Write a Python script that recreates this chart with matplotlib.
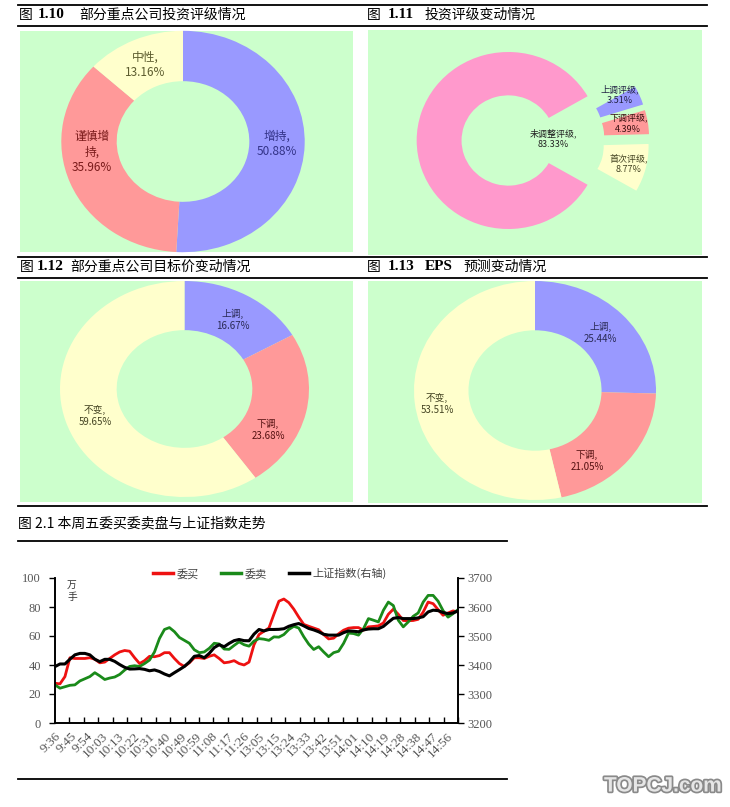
import numpy as np
import matplotlib
matplotlib.use("Agg")
import matplotlib.pyplot as plt
import matplotlib.patheffects as pe
from matplotlib.lines import Line2D

plt.rcParams['font.family'] = ['Noto Sans CJK SC', 'DejaVu Sans']

W, H = 730, 807
GREEN = '#ccffcc'
BLUE, RED, YELLOW, PINK = '#9999ff', '#ff9999', '#ffffcc', '#ff99cc'

# ---- data: donuts ----
p1_names = ['增持', '谨慎增\n持', '中性']
p1_values = [50.88, 35.96, 13.16]

p2_names = ['上调评级', '下调评级', '首次评级', '未调整评级']
p2_values = [3.51, 4.39, 8.77, 83.33]

p3_names = ['上调', '下调', '不变']
p3_values = [16.67, 23.68, 59.65]

p4_names = ['上调', '下调', '不变']
p4_values = [25.44, 21.05, 53.51]

# ---- data: intraday lines ----
time_labels = ['9:36', '9:45', '9:54', '10:03', '10:13', '10:22', '10:31', '10:40',
               '10:49', '10:59', '11:08', '11:17', '11:26', '13:05', '13:15', '13:24',
               '13:33', '13:42', '13:51', '14:01', '14:10', '14:19', '14:28', '14:38',
               '14:47', '14:56']

buy = [27.4, 27, 32, 45, 44.5, 44.5, 44.5, 45, 44, 41.5,
       42, 44.5, 47, 49, 50, 49.5, 45, 41, 43, 46,
       45.7, 46.5, 48.5, 48.5, 44.5, 41, 39, 41.5, 45, 45,
       44.5, 46, 47, 44.5, 41.5, 42, 43, 41, 40, 42,
       54, 61, 63.3, 65.5, 75, 84, 85.5, 83, 78.5, 73,
       68, 66.7, 65.5, 64.3, 61, 58, 58.5, 61.5, 64, 65.4,
       65.8, 65.8, 64, 66.3, 66.6, 67, 69, 75, 78.5, 75,
       70.7, 70.5, 70.7, 71.5, 76.5, 83.4, 82.3, 78.2, 74.3, 75.9,
       77.3, 76.6]

sell = [26.3, 24, 25, 26, 26.3, 29, 30.5, 32, 34.7, 32.5,
        30, 31, 31.7, 33.5, 36.5, 39, 39.5, 39, 41, 43.4,
        49, 58.3, 64.5, 65.8, 63, 59, 57, 55, 50.5, 48.5,
        49, 51.5, 55, 54.5, 51, 50.8, 53.5, 56, 54, 53,
        56.5, 58.2, 57.8, 57, 59.4, 59.2, 61, 64.5, 66.7, 65.5,
        59.5, 54.4, 50.7, 52.6, 49, 45.7, 48.5, 49.5, 54.9, 62,
        61.7, 60.6, 65, 72, 70.9, 69.7, 77.7, 83.4, 81, 70.9,
        66.3, 69.7, 73.6, 75.9, 83.4, 88, 88, 84, 77.5, 73,
        75.4, 78.2]

sh_index = [3394.5, 3403.5, 3403.5, 3420, 3435, 3440, 3440, 3435, 3420, 3411.5,
            3419.5, 3419.5, 3412.5, 3401.5, 3392, 3386, 3386.5, 3387.5, 3385, 3380,
            3383, 3377.5, 3369, 3362.5, 3373.5, 3384, 3395, 3410, 3430, 3432.5,
            3425, 3440, 3460, 3470, 3463, 3474.5, 3484, 3488, 3484, 3483.5,
            3506.5, 3522.5, 3517.5, 3522.5, 3522.5, 3523, 3525, 3533.5, 3539, 3543,
            3535, 3526, 3521, 3514.5, 3506, 3503, 3503, 3503, 3511.5, 3517.5,
            3516.5, 3514.5, 3521, 3524, 3525, 3525, 3533, 3547.5, 3561, 3563.5,
            3560, 3560, 3560, 3562.5, 3566.5, 3583, 3589, 3587.5, 3581, 3577,
            3579.5, 3586.5]

fig = plt.figure(figsize=(W / 100, H / 100), dpi=100)


def fig_rect(x0, y0, x1, y1):
    return [x0 / W, 1 - y1 / H, (x1 - x0) / W, (y1 - y0) / H]


def hline(y, x0, x1, lw=1.3):
    fig.add_artist(Line2D([x0 / W, x1 / W], [1 - y / H, 1 - y / H],
                          transform=fig.transFigure, color='black', lw=lw))


def ftext(x, y, s, **kw):
    fig.text(x / W, 1 - y / H, s, va='center', ha='left', **kw)


def donut(box, center, rx, ry, hole, values, colors, start, names, tcolors, tpos, fs,
          explode=None):
    x0, y0, x1, y1 = box
    ax = fig.add_axes(fig_rect(x0, y0, x1, y1))
    ax.pie(values, colors=colors, startangle=start, counterclock=False, explode=explode,
           wedgeprops=dict(width=1 - hole, edgecolor='none', linewidth=0))
    ax.set_aspect('auto')
    cx, cy = center
    ax.set_xlim((x0 - cx) / rx, (x1 - cx) / rx)
    ax.set_ylim((cy - y1) / ry, (cy - y0) / ry)
    ax.set_frame_on(True)
    ax.set_facecolor(GREEN)
    for s in ax.spines.values():
        s.set_visible(False)
    for name, v, tc, (tx, ty) in zip(names, values, tcolors, tpos):
        ax.text(tx, ty, f"{name},\n{v:.2f}%", ha='center', va='center', color=tc,
                fontsize=fs, linespacing=1.25)
    return ax


# rules and titles
for y in (5, 26, 257, 278, 506):
    hline(y, 18, 707)
hline(541, 18, 507)
hline(779, 18, 507)

serif_b = dict(family='Liberation Serif', weight='bold', fontsize=11)
ftext(19, 15, '图', fontsize=10)
ftext(38, 15, '1.10', **serif_b)
ftext(79, 15, '部分重点公司投资评级情况', fontsize=10)
ftext(367, 15, '图', fontsize=10)
ftext(388, 15, '1.11', **serif_b)
ftext(425, 15, '投资评级变动情况', fontsize=10)
ftext(20, 267, '图', fontsize=10)
ftext(37, 267, '1.12', **serif_b)
ftext(70, 267, '部分重点公司目标价变动情况', fontsize=10)
ftext(367, 267, '图', fontsize=10)
ftext(388, 267, '1.13', **serif_b)
ftext(425, 267, 'EPS', **serif_b)
ftext(463, 267, '预测变动情况', fontsize=10)
ftext(18, 523, '图 2.1 本周五委买委卖盘与上证指数走势', fontsize=10)

# donuts
donut((20, 31, 353, 252), (183, 141.5), 121.7, 110.7, 0.545,
      p1_values, [BLUE, RED, YELLOW], 90, p1_names,
      ['#333388', '#7a1a1a', '#5c5c2e'],
      [(0.77, -0.02), (-0.75, -0.095), (-0.31, 0.69)], 8.5)

donut((368, 30, 702, 255), (533, 140.5), 91.6, 88.5, 0.51,
      p2_values, [BLUE, RED, YELLOW, PINK], 30, p2_names,
      ['#222244', '#3a1111', '#444422', '#222222'],
      [(0.95, 0.52), (1.04, 0.19), (1.04, -0.26), (0.22, 0.02)], 6.5,
      explode=[0.27] * 4)

donut((20, 281, 353, 502), (184.5, 389), 124.5, 108, 0.545,
      p3_values, [BLUE, RED, YELLOW], 90, p3_names,
      ['#2a2a55', '#551111', '#444422'],
      [(0.39, 0.64), (0.67, -0.38), (-0.72, -0.25)], 7)

donut((368, 281, 702, 503), (535, 390.5), 121, 109.5, 0.55,
      p4_values, [BLUE, RED, YELLOW], 90, p4_names,
      ['#2a2a55', '#551111', '#444422'],
      [(0.54, 0.525), (0.43, -0.645), (-0.81, -0.12)], 7)

# line chart
x = np.arange(len(buy))
ax = fig.add_axes(fig_rect(55, 578, 458, 723))
ax.plot(x, buy, color='#ee1111', lw=2)
ax.plot(x, sell, color='#1a8a1a', lw=2)
ax2 = ax.twinx()
ax2.plot(x, sh_index, color='black', lw=2.2)

ax.set_xlim(0, len(buy) - 1)
ax.set_ylim(0, 100)
ax2.set_ylim(3200, 3700)
ax.set_yticks(range(0, 101, 20))
ax2.set_yticks(range(3200, 3701, 100))
for a in (ax, ax2):
    a.spines['top'].set_visible(False)
    for s in a.spines.values():
        s.set_linewidth(1.2)

ax.tick_params(axis='y', direction='out', length=4, width=1, pad=6,
               labelcolor='#555555', labelfontfamily='Liberation Serif', labelsize=9)
ax2.tick_params(axis='y', direction='out', length=4, width=1, pad=3,
                labelcolor='#555555', labelfontfamily='Liberation Serif', labelsize=9)

label_pos = np.arange(len(time_labels)) * (len(buy) - 1) / 25.7
ax.set_xticks(label_pos)
ax.set_xticklabels(time_labels, rotation=45, ha='right', rotation_mode='anchor',
                   color='#555555', fontfamily='Liberation Serif', fontsize=9.5)
ax.tick_params(axis='x', which='major', length=0, pad=5)
ax.set_xticks(np.linspace(0, len(buy) - 1, 29), minor=True)
ax.tick_params(axis='x', which='minor', direction='in', length=4, width=1)

ax.text(0.042, 0.91, '万\n手', transform=ax.transAxes, fontsize=7, color='#333333',
        ha='center', va='center', linespacing=1.3)

handles = [Line2D([], [], color='#ee1111', lw=2.5),
           Line2D([], [], color='#1a8a1a', lw=2.5),
           Line2D([], [], color='black', lw=2.5)]
leg = ax.legend(handles, ['委买', '委卖', '上证指数(右轴)'], loc='center',
                bbox_to_anchor=(0.533, 1.03), ncol=3, frameon=False, fontsize=8,
                handlelength=1.8, columnspacing=2.0, handletextpad=0.3)
for t in leg.get_texts():
    t.set_color('#444444')

# watermark
fig.text(663 / W, 1 - 786 / H, 'TOPCJ.com', ha='center', va='center', fontsize=15,
         family='Liberation Sans', weight='bold', color='#e6e6e6',
         path_effects=[pe.withStroke(linewidth=2.5, foreground='#8a8a8a')])

fig.savefig('out.png', dpi=100)
